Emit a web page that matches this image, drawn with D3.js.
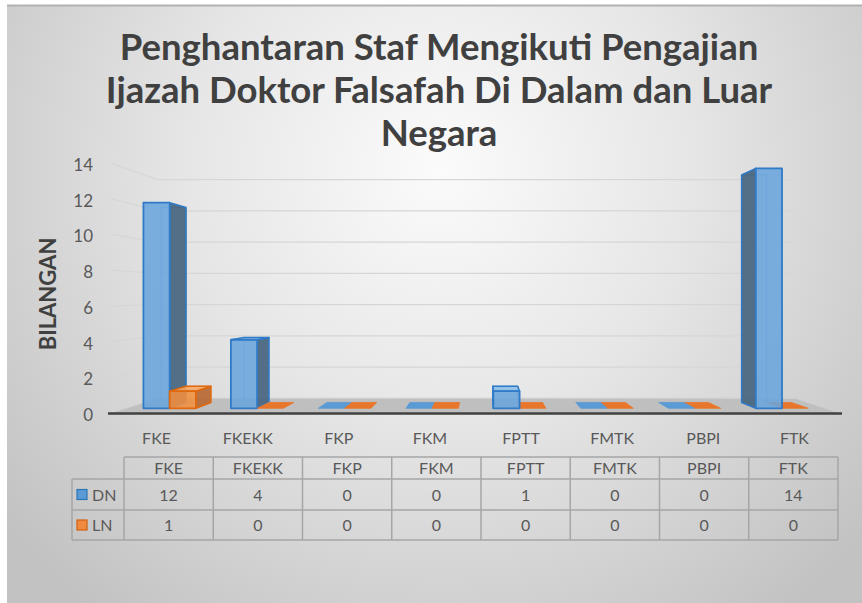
<!DOCTYPE html>
<html>
<head>
<meta charset="utf-8">
<script src="https://cdn.jsdelivr.net/npm/d3@7"></script>
<style>
  body { margin: 0; background: #ffffff; }
  svg { display: block; }
</style>
</head>
<body>
<svg id="chart" width="862" height="603"></svg>
<script>
// ---- data ----
const categories = ["FKE", "FKEKK", "FKP", "FKM", "FPTT", "FMTK", "PBPI", "FTK"];
const dnValues = [12, 4, 0, 0, 1, 0, 0, 14];
const lnValues = [1, 0, 0, 0, 0, 0, 0, 0];
const seriesNames = ["DN", "LN"];
const yTicks = [0, 2, 4, 6, 8, 10, 12, 14];
const titleLines = [
  "Penghantaran Staf Mengikuti Pengajian",
  "Ijazah Doktor Falsafah Di Dalam dan Luar",
  "Negara"
];
const yAxisTitle = "BILANGAN";

// ---- styling per series ----
const palette = {
  DN: { front: "#6aa5dd", side: "#46647f", top: "#8dbce8", stroke: "#2f7bc8", flat: "#5b9bd5", key: "#5b9bd5", keyStroke: "#2e75b6" },
  LN: { front: "#f3903f", side: "#b76933", top: "#f7a865", stroke: "#e0690f", flat: "#e8762b", key: "#f08a40", keyStroke: "#d2600f" }
};
const seriesValues = { DN: dnValues, LN: lnValues };
const fontFamily = "Lato, 'Open Sans', sans-serif";

const svg = d3.select("#chart");
const defs = svg.append("defs");

// background: soft radial glow
const bg = defs.append("radialGradient")
  .attr("id", "bg").attr("gradientUnits", "userSpaceOnUse")
  .attr("cx", 440).attr("cy", 170).attr("r", 560);
bg.append("stop").attr("offset", 0).attr("stop-color", "#fbfbfb");
bg.append("stop").attr("offset", 0.45).attr("stop-color", "#e6e6e6");
bg.append("stop").attr("offset", 1).attr("stop-color", "#c2c2c2");

svg.append("rect")
  .attr("x", 7).attr("y", 5).attr("width", 855).attr("height", 598)
  .attr("fill", "url(#bg)");
svg.append("line")
  .attr("x1", 7).attr("x2", 862).attr("y1", 5.5).attr("y2", 5.5)
  .attr("stroke", "#b2b2b2").attr("stroke-width", 2);

// ---- title ----
const title = svg.append("g")
  .attr("font-family", fontFamily)
  .attr("font-weight", 700).attr("font-size", 36.5)
  .attr("fill", "#404040").attr("text-anchor", "middle");
titleLines.forEach((t, i) => {
  title.append("text").attr("x", 439).attr("y", 60 + i * 43).text(t);
});

// ---- scales & simple perspective ----
const x = d3.scaleBand().domain(categories).range([111, 840]);
const y = d3.scaleLinear().domain([0, 14]).range([413, 163]);
const vx = 484, vy = 296, depthShrink = 0.125;
const f = t => 1 - depthShrink * t;
const P = (X, Y, t) => [vx + (X - vx) * f(t), vy + (Y - vy) * f(t)];
const poly = d3.line().curve(d3.curveLinearClosed);
const path = d3.line();

const plot = svg.append("g");

// gridlines: left wall + back wall
yTicks.forEach(v => {
  const Y = y(v);
  plot.append("path")
    .attr("d", path([P(x.range()[0], Y, 0), P(x.range()[0], Y, 1), P(x.range()[1], Y, 1)]))
    .attr("fill", "none").attr("stroke", "#d6d6d6").attr("stroke-width", 1.2);
});

// floor
const x0 = x.range()[0], x1 = x.range()[1], Yf = y(0);
plot.append("path")
  .attr("d", poly([P(x0, Yf, 0), P(x1, Yf, 0), P(x1, Yf, 1), P(x0, Yf, 1)]))
  .attr("fill", "#bfbfbf").attr("stroke", "#cfcfcf").attr("stroke-width", 0.8);
plot.append("line")
  .attr("x1", x0 - 3).attr("x2", x1 + 2).attr("y1", Yf + 0.5).attr("y2", Yf + 0.5)
  .attr("stroke", "#404040").attr("stroke-width", 2.5);

// y tick labels
plot.append("g")
  .attr("font-family", fontFamily).attr("font-size", 17)
  .attr("fill", "#595959").attr("text-anchor", "end")
  .selectAll("text").data(yTicks).join("text")
  .attr("x", 93).attr("y", d => y(d) + 8).text(d => d);

// y axis title
svg.append("text")
  .attr("transform", "translate(56,294) rotate(-90)")
  .attr("text-anchor", "middle")
  .attr("font-family", fontFamily).attr("font-weight", 700).attr("font-size", 22)
  .attr("fill", "#404040").text(yAxisTitle);

// category labels under the floor
plot.append("g")
  .attr("font-family", fontFamily).attr("font-size", 16)
  .attr("fill", "#595959").attr("text-anchor", "middle")
  .selectAll("text").data(categories).join("text")
  .attr("x", d => x(d) + x.bandwidth() / 2).attr("y", 444).text(d => d);

// ---- bars (drawn far-to-near from the vanishing point) ----
const barW = x.bandwidth() * 0.3;
const t0 = 0.32, t1 = 0.72;
const bars = [];
categories.forEach((c, i) => {
  const start = x(c) + (x.bandwidth() - 2 * barW) / 2;
  seriesNames.forEach((s, j) => {
    const X0 = start + j * barW, X1 = X0 + barW;
    bars.push({ c, s, v: seriesValues[s][i], X0, X1 });
  });
});
bars.sort((a, b) => Math.abs((b.X0 + b.X1) / 2 - vx) - Math.abs((a.X0 + a.X1) / 2 - vx));

const barLayer = plot.append("g").attr("stroke-linejoin", "round");
bars.forEach(b => {
  const col = palette[b.s];
  const Y0 = y(0), Y1 = y(b.v);
  const g = barLayer.append("g");
  if (b.v === 0) {
    g.append("path")
      .attr("d", poly([P(b.X0, Y0, t0), P(b.X1, Y0, t0), P(b.X1, Y0, t1), P(b.X0, Y0, t1)]))
      .attr("fill", col.flat).attr("stroke", col.flat).attr("stroke-width", 0.8);
    return;
  }
  // rear edges showing through the translucent faces
  g.append("path")
    .attr("d", path([P(b.X0, Y0, t1), P(b.X0, Y1, t1), P(b.X1, Y1, t1), P(b.X1, Y0, t1)]))
    .attr("fill", "none").attr("stroke", col.stroke).attr("stroke-opacity", 0.5).attr("stroke-width", 1);
  // visible side face
  if (b.X1 < vx) {
    g.append("path")
      .attr("d", poly([P(b.X1, Y0, t0), P(b.X1, Y1, t0), P(b.X1, Y1, t1), P(b.X1, Y0, t1)]))
      .attr("fill", col.side).attr("fill-opacity", 0.92).attr("stroke", col.stroke).attr("stroke-width", 1.5);
  } else if (b.X0 > vx) {
    g.append("path")
      .attr("d", poly([P(b.X0, Y0, t0), P(b.X0, Y1, t0), P(b.X0, Y1, t1), P(b.X0, Y0, t1)]))
      .attr("fill", col.side).attr("fill-opacity", 0.92).attr("stroke", col.stroke).attr("stroke-width", 1.5);
  }
  // top face when seen from above
  if (Y1 > vy) {
    g.append("path")
      .attr("d", poly([P(b.X0, Y1, t0), P(b.X1, Y1, t0), P(b.X1, Y1, t1), P(b.X0, Y1, t1)]))
      .attr("fill", col.top).attr("fill-opacity", 0.9).attr("stroke", col.stroke).attr("stroke-width", 1.5);
  }
  // front face
  g.append("path")
    .attr("d", poly([P(b.X0, Y0, t0), P(b.X1, Y0, t0), P(b.X1, Y1, t0), P(b.X0, Y1, t0)]))
    .attr("fill", col.front).attr("fill-opacity", 0.88).attr("stroke", col.stroke).attr("stroke-width", 1.8);
});

// ---- data table ----
const tx = d3.scaleBand().domain(categories).range([124, 838]);
const rowY = [457, 479, 510, 540];
const legendX = 72;
const table = svg.append("g");
const gridStroke = "#a6a6a6";
table.append("line").attr("x1", 124).attr("x2", 838).attr("y1", rowY[0]).attr("y2", rowY[0])
  .attr("stroke", gridStroke).attr("stroke-width", 1.5);
rowY.slice(1).forEach(yy => {
  table.append("line").attr("x1", legendX).attr("x2", 838).attr("y1", yy).attr("y2", yy)
    .attr("stroke", gridStroke).attr("stroke-width", 1.5);
});
table.append("line").attr("x1", legendX).attr("x2", legendX).attr("y1", rowY[1]).attr("y2", rowY[3])
  .attr("stroke", gridStroke).attr("stroke-width", 1.5);
categories.concat([null]).forEach(c => {
  const xx = c === null ? tx.range()[1] : tx(c);
  table.append("line").attr("x1", xx).attr("x2", xx).attr("y1", rowY[0]).attr("y2", rowY[3])
    .attr("stroke", gridStroke).attr("stroke-width", 1.5);
});

const tText = table.append("g")
  .attr("font-family", fontFamily).attr("font-size", 16)
  .attr("fill", "#595959").attr("text-anchor", "middle");
categories.forEach((c, i) => {
  const cx = tx(c) + tx.bandwidth() / 2;
  tText.append("text").attr("x", cx).attr("y", (rowY[0] + rowY[1]) / 2 + 6).text(c);
  seriesNames.forEach((s, j) => {
    tText.append("text").attr("x", cx).attr("y", (rowY[j + 1] + rowY[j + 2]) / 2 + 6)
      .text(seriesValues[s][i]);
  });
});
seriesNames.forEach((s, j) => {
  const cy = (rowY[j + 1] + rowY[j + 2]) / 2;
  table.append("rect").attr("x", 77).attr("y", cy - 5).attr("width", 10).attr("height", 10)
    .attr("fill", palette[s].key).attr("stroke", palette[s].keyStroke).attr("stroke-width", 1.2);
  table.append("text").attr("x", 92).attr("y", cy + 6)
    .attr("font-family", fontFamily).attr("font-size", 16)
    .attr("fill", "#595959").text(s);
});
</script>
</body>
</html>
